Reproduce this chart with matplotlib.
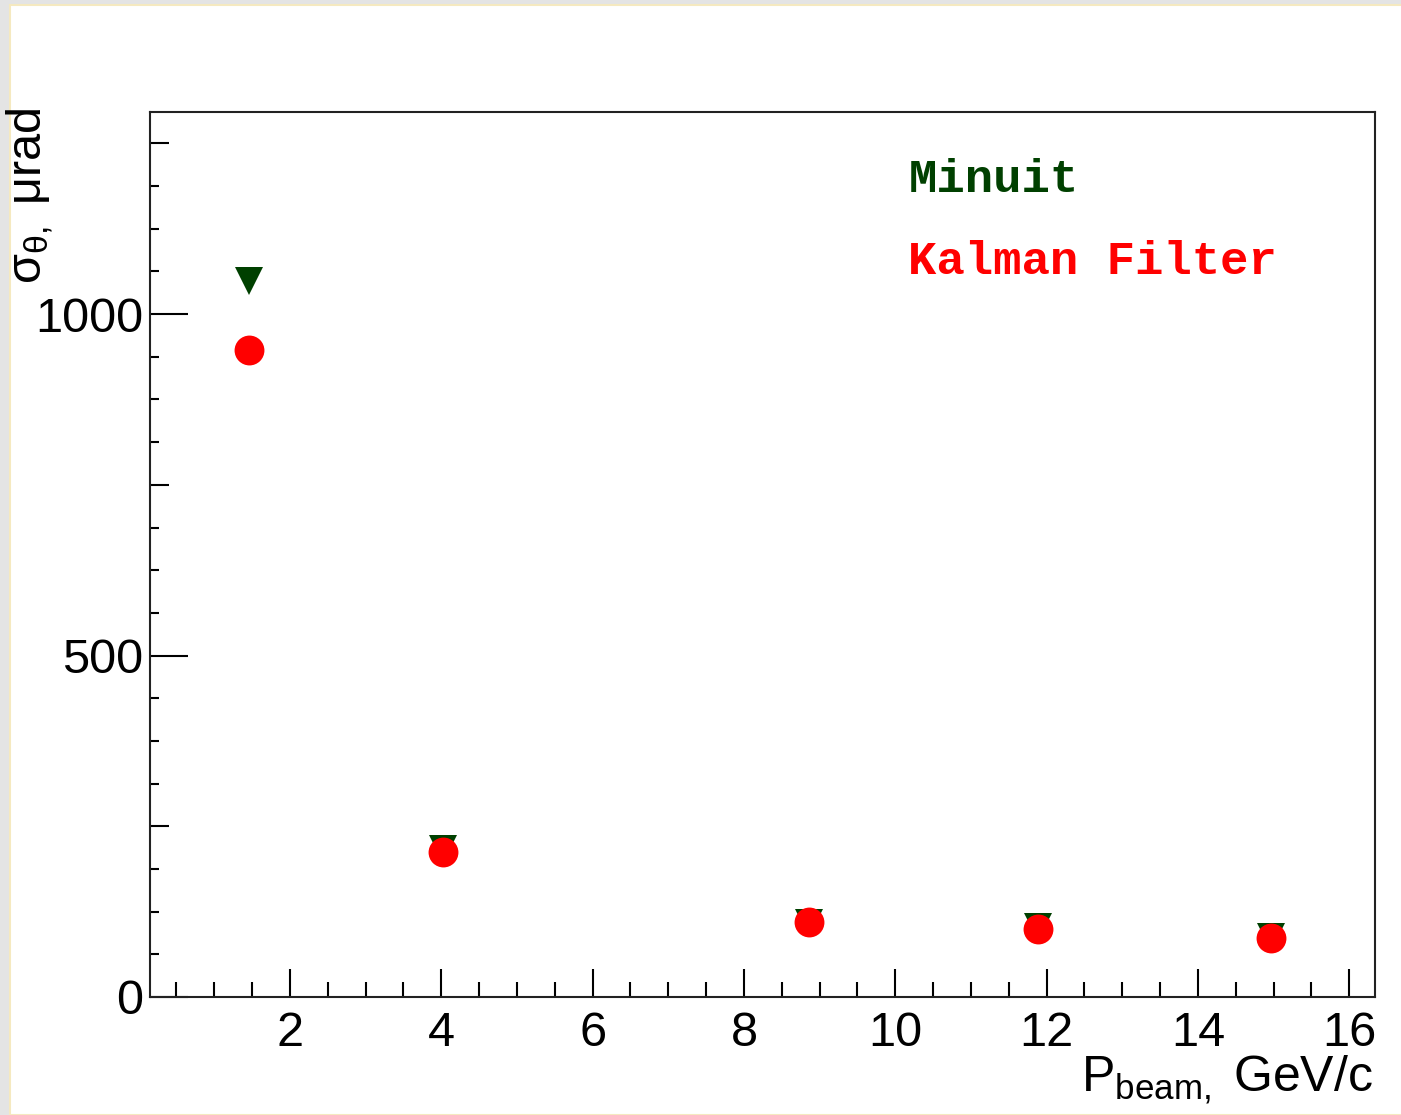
import matplotlib
matplotlib.use("Agg")
import matplotlib.pyplot as plt
from matplotlib.patches import Rectangle
from matplotlib.ticker import MultipleLocator

# beam momentum, GeV/c
momentum = [1.46, 4.02, 8.86, 11.89, 14.96]
# angular resolution, microrad
minuit = [1048, 217, 109, 103, 88]
kalman = [947, 212, 110, 100, 87]

y_major = [0, 250, 500, 750, 1000, 1250]
y_labels = ["0", "", "500", "", "1000", ""]

plt.rcParams['font.family'] = ['Liberation Sans', 'DejaVu Sans']
plt.rcParams['mathtext.fontset'] = 'custom'
plt.rcParams['mathtext.rm'] = 'Liberation Sans'
plt.rcParams['mathtext.it'] = 'Liberation Sans'

fig = plt.figure(figsize=(14.01, 11.15), dpi=100)
fig.patch.set_facecolor('#e4e4e4')
# white canvas inside the screenshot border
fig.patches.append(Rectangle((10 / 1401, 0), 1, 1 - 5 / 1115, transform=fig.transFigure,
                             facecolor='white', edgecolor='#f5e9c0', linewidth=1.5, zorder=-10))

ax = fig.add_axes([150 / 1401, 1 - 997 / 1115, 1225 / 1401, 885 / 1115])
ax.set_xlim(0.15, 16.34)
ax.set_ylim(0, 1296)

ax.plot(momentum, minuit, linestyle='none', marker='v', markersize=20,
        color='#004000', markeredgewidth=0)
ax.plot(momentum, kalman, linestyle='none', marker='o', markersize=21.5,
        color='#ff0000', markeredgewidth=0)

for s in ax.spines.values():
    s.set_linewidth(1.5)
    s.set_color('#222222')

ax.xaxis.set_major_locator(MultipleLocator(2))
ax.xaxis.set_minor_locator(MultipleLocator(0.5))
ax.set_xticks([2, 4, 6, 8, 10, 12, 14, 16])
ax.yaxis.set_minor_locator(MultipleLocator(62.5))
ax.set_yticks(y_major)
ax.set_yticklabels(y_labels)

ax.tick_params(axis='x', which='major', direction='in', length=20, width=1.5,
               labelsize=35, pad=10, top=False)
ax.tick_params(axis='x', which='minor', direction='in', length=10.5, width=1.5, top=False)
ax.tick_params(axis='y', which='major', direction='in', length=27, width=1.5,
               labelsize=35, pad=5, right=False)
ax.tick_params(axis='y', which='minor', direction='in', length=6.5, width=1.5, right=False)

# medium-length ticks at 250, 750, 1250
for i, t in enumerate(ax.yaxis.get_major_ticks()):
    if y_labels[i] == "":
        t.tick1line.set_markersize(14)

ax.text(0.619, 0.923, "Minuit", transform=ax.transAxes, color='#004000',
        fontsize=34, fontweight='bold', family='Liberation Mono', va='center', ha='left')
ax.text(0.619, 0.8305, "Kalman Filter", transform=ax.transAxes, color='#ff0000',
        fontsize=34, fontweight='bold', family='Liberation Mono', va='center', ha='left')

fig.text(30 / 1401, 1 - 108 / 1115, r"$\mathregular{\sigma_{\theta,}}$ μrad", rotation=90,
         ha='center', va='top', fontsize=35)
fig.text(1373 / 1401, 1 - 1080 / 1115, r"$\mathregular{P_{beam,}}$ GeV/c",
         ha='right', va='center', fontsize=36)

fig.savefig("out.png", dpi=100, facecolor=fig.get_facecolor())
